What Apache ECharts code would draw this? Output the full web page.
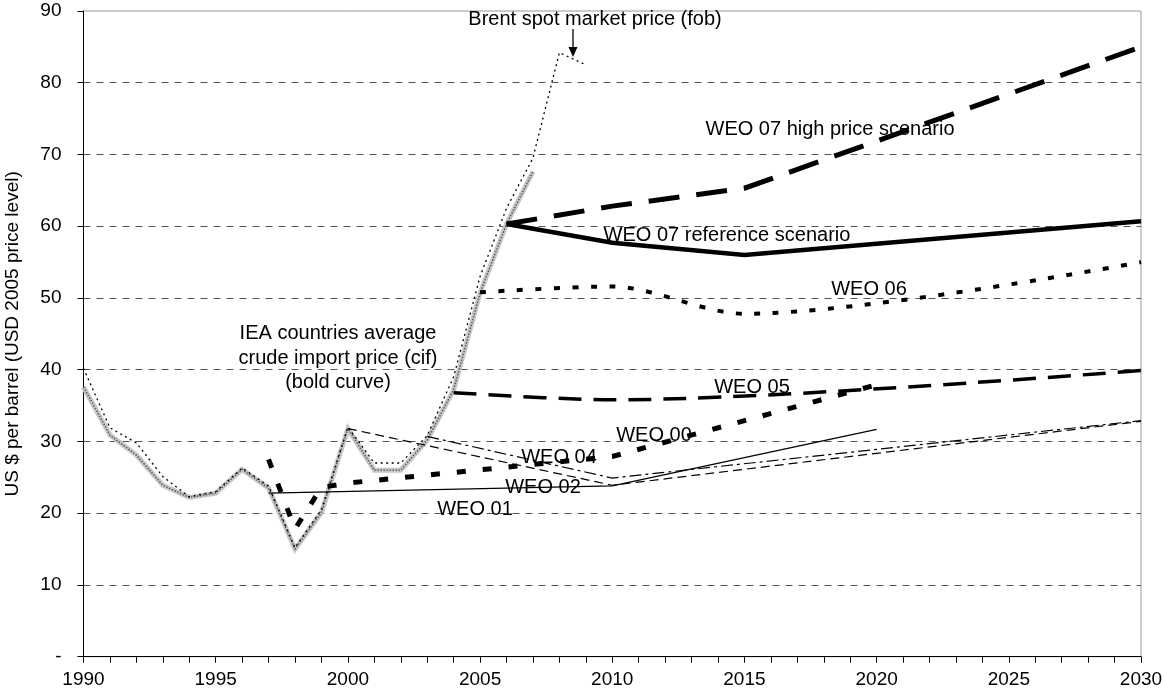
<!DOCTYPE html>
<html>
<head>
<meta charset="utf-8">
<script src="https://cdn.jsdelivr.net/npm/echarts@6/dist/echarts.min.js"></script>
<style>
html,body{margin:0;padding:0;background:#fff;}
#chart{width:1164px;height:693px;}
</style>
</head>
<body>
<div id="chart"></div>
<script>
// ---- data ----
const cifYears = [1990,1991,1992,1993,1994,1995,1996,1997,1998,1999,2000,2001,2002,2003,2004,2005,2006,2007];
const cifValues = [37.6,30.9,28.1,23.9,22.2,22.8,26.1,23.5,15.0,20.1,31.8,26.0,26.0,30.2,37.2,50.7,60.3,67.6];

const brentYears = [1990,1991,1992,1993,1994,1995,1996,1997,1998,1999,2000,2001,2002,2003,2004,2005,2006,2007,2008,2009];
const brentValues = [40.2,31.9,29.8,25.1,22.3,23.0,26.3,23.8,15.2,20.5,32.0,27.0,27.0,30.8,39.0,53.0,62.5,69.5,84.2,82.5];

const weo01Years = [1997,2010,2020];
const weo01Values = [22.8,23.8,31.7];

const weo00Years = [1997,1998,1999,2000,2010,2020];
const weo00Values = [27.5,17.8,23.6,24.2,27.9,37.9];

const weo02Years = [2000,2010,2030];
const weo02Values = [31.8,23.9,32.8];

const weo04Years = [2003,2010,2030];
const weo04Values = [30.7,24.9,32.9];

const weo05Years = [2004,2010,2030];
const weo05Values = [36.8,35.8,39.9];

const weo06Years = [2005,2010,2015,2030];
const weo06Values = [50.8,51.6,47.8,55.0];

const weo07RefYears = [2006,2010,2015,2030];
const weo07RefValues = [60.3,57.7,56.0,60.7];

const weo07HighYears = [2006,2010,2015,2030];
const weo07HighValues = [60.3,62.8,65.3,85.0];

const yTicks = [0,10,20,30,40,50,60,70,80,90];

function pairs(xs, ys){ return xs.map((x,i)=>[x, ys[i]]); }

const FONT = '"Liberation Sans", Arial, sans-serif';
const FS = 19;
const FS_NOTE = 20;

const chart = echarts.init(document.getElementById('chart'), null, {renderer:'canvas'});

function line(name, xs, ys, width, color, type, extra){
  return Object.assign({
    name: name, type:'line', data: pairs(xs, ys), symbol:'none', silent:true,
    lineStyle:{width:width, color:color, type:type, cap:'butt', join:'miter'},
    z: 3
  }, extra||{});
}

const gridColors = yTicks.map((v,i)=> i === yTicks.length-1 ? 'rgba(0,0,0,0)' : '#555');

function txt(t, x, y){
  return {type:'text', x:x, y:y, z:100, silent:true,
    style:{text:t, fill:'#000', font: FS_NOTE+'px '+FONT, align:'center', verticalAlign:'middle', textAlign:'center', textVerticalAlign:'middle'}};
}

const option = {
  animation:false,
  backgroundColor:'#fff',
  grid:{left:83.5, right:23, top:11, bottom:36.3, containLabel:false, outerBoundsMode:'none',
    show:true, borderColor:'#999', borderWidth:1, backgroundColor:'transparent'},
  xAxis:{
    type:'value', min:1990, max:2030, interval:1,
    axisLine:{show:true, onZero:false, lineStyle:{color:'#000', width:1}},
    axisTick:{show:true, length:6, lineStyle:{color:'#000'}},
    axisLabel:{fontFamily:FONT, fontSize:FS, color:'#000', margin:14,
      formatter:function(v){ return (Math.round(v)%5===0) ? String(Math.round(v)) : ''; }},
    splitLine:{show:false}
  },
  yAxis:{
    type:'value', min:0, max:90, interval:10,
    name:'US $ per barrel (USD 2005 price level)', nameLocation:'middle', nameRotate:90, nameGap:61,
    nameTextStyle:{fontFamily:FONT, fontSize:FS, color:'#000'},
    axisLine:{show:true, onZero:false, lineStyle:{color:'#000', width:1}},
    axisTick:{show:true, length:6, lineStyle:{color:'#000'}},
    axisLabel:{fontFamily:FONT, fontSize:FS, color:'#000', margin:22,
      formatter:function(v){ return v===0 ? '-' : String(v); }},
    splitLine:{show:true, lineStyle:{color:gridColors, width:1, type:[7,6]}}
  },
  series:[
    line('IEA cif', cifYears, cifValues, 5, '#c6c6c6', 'solid', {z:2}),
    line('IEA cif texture', cifYears, cifValues, 1.4, '#555', [1.5,1.5], {z:2}),
    line('Brent', brentYears, brentValues, 1.3, '#000', [2,3.5]),
    line('WEO 01', weo01Years, weo01Values, 1.3, '#000', 'solid'),
    line('WEO 02', weo02Years, weo02Values, 1.2, '#000', [9,5]),
    line('WEO 04', weo04Years, weo04Values, 1.2, '#000', [12,4,3,4]),
    line('WEO 00', weo00Years, weo00Values, 5, '#000', [9,17]),
    line('WEO 05', weo05Years, weo05Values, 3.5, '#000', [23,12], {smooth:0.3}),
    line('WEO 06', weo06Years, weo06Values, 4, '#000', [6,12.5], {smooth:0.3}),
    line('WEO 07 ref', weo07RefYears, weo07RefValues, 4.5, '#000', 'solid'),
    line('WEO 07 high', weo07HighYears, weo07HighValues, 5, '#000', [31,17])
  ],
  graphic:[
    txt('Brent spot market price (fob)', 595, 19),
    txt('WEO 07 high price scenario', 830, 129),
    txt('WEO 07 reference scenario', 727, 235),
    txt('WEO 06', 869, 289),
    txt('WEO 05', 752, 387),
    txt('WEO 00', 654, 435),
    txt('WEO 04', 559, 457),
    txt('WEO 02', 543, 487),
    txt('WEO 01', 475, 509),
    txt('IEA countries average', 338, 333),
    txt('crude import price (cif)', 338, 358),
    txt('(bold curve)', 338, 382),
    {type:'line', z:100, silent:true, shape:{x1:573, y1:29, x2:573, y2:49}, style:{stroke:'#000', lineWidth:1.3}},
    {type:'polygon', z:100, silent:true, shape:{points:[[568.5,47],[577.5,47],[573,57]]}, style:{fill:'#000'}}
  ]
};
chart.setOption(option);
</script>
</body>
</html>
